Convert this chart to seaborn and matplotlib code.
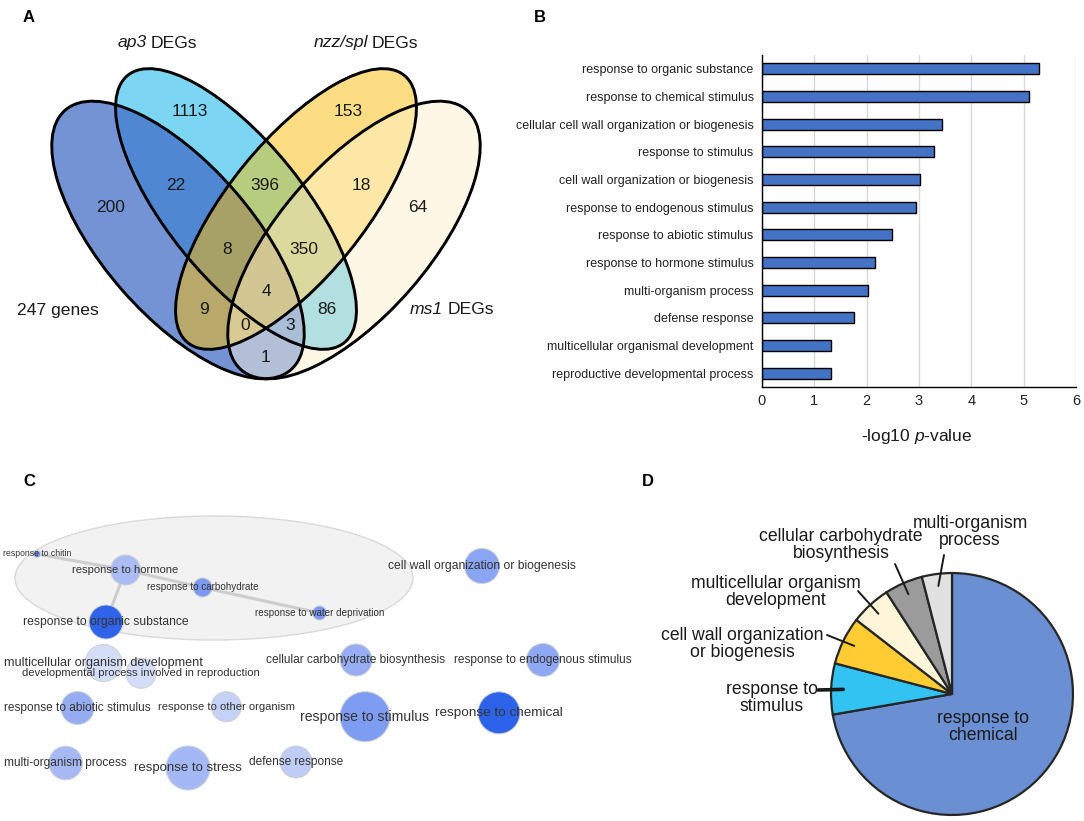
import numpy as np
import pandas as pd
import matplotlib
matplotlib.use("Agg")
import matplotlib.pyplot as plt
from matplotlib.patches import Ellipse
from matplotlib.colors import to_rgba
import seaborn as sns

# ---------------- data ----------------
# Panel A: Venn counts, one per region (set order: 247 genes, ap3, nzz/spl, ms1)
venn_regions = ["A", "B", "C", "D", "AB", "BC", "CD", "ABC", "BCD", "ABCD", "AC", "BD", "ACD", "ABD", "AD"]
venn_counts = [200, 1113, 153, 64, 22, 396, 18, 8, 350, 4, 9, 86, 0, 3, 1]

# Panel B: enriched GO terms
b_terms = ["response to organic substance", "response to chemical stimulus",
           "cellular cell wall organization or biogenesis", "response to stimulus",
           "cell wall organization or biogenesis", "response to endogenous stimulus",
           "response to abiotic stimulus", "response to hormone stimulus",
           "multi-organism process", "defense response",
           "multicellular organismal development", "reproductive developmental process"]
b_values = [5.30, 5.11, 3.44, 3.29, 3.01, 2.94, 2.49, 2.15, 2.03, 1.75, 1.32, 1.32]

# Panel C: GO term network
c_terms = ["response to chitin", "response to hormone", "response to carbohydrate",
           "response to water deprivation", "response to organic substance",
           "cell wall organization or biogenesis", "multicellular organism development",
           "developmental process involved in reproduction", "cellular carbohydrate biosynthesis",
           "response to endogenous stimulus", "response to abiotic stimulus",
           "response to other organism", "response to stimulus", "response to chemical",
           "multi-organism process", "response to stress", "defense response"]
c_node_radius = [3.5, 15, 9.5, 7, 17, 17.5, 18.5, 15, 16, 16.5, 16.5, 15, 25, 21, 16.8, 22, 16]
c_node_color = ["#6d8df0", "#aabcf3", "#7d9af2", "#7b98f0", "#2f63ea", "#8aa5f4", "#d3ddf8",
                "#d4ddf8", "#97aef4", "#8fa8f4", "#96adf3", "#c5d2f7", "#7f9cf3", "#2d62ea",
                "#a6b9f4", "#a4b8f5", "#bfcdf6"]
c_edges = [("response to chitin", "response to hormone"),
           ("response to hormone", "response to carbohydrate"),
           ("response to carbohydrate", "response to water deprivation"),
           ("response to hormone", "response to organic substance")]

# Panel D: share of GO categories
d_labels = ["response to\nchemical", "response to\nstimulus", "cell wall organization\nor biogenesis",
            "multicellular organism\ndevelopment", "cellular carbohydrate\nbiosynthesis",
            "multi-organism\nprocess"]
d_values = [72.2, 6.8, 6.4, 5.4, 5.1, 4.0]

# ---------------- layout / style ----------------
sns.set_theme(style="white")
plt.rcParams["font.family"] = ["Liberation Sans", "DejaVu Sans"]
plt.rcParams["mathtext.fontset"] = "custom"
plt.rcParams["mathtext.rm"] = "Liberation Sans"
plt.rcParams["mathtext.it"] = "Liberation Sans:italic"

fig = plt.figure(figsize=(10.84, 8.21), dpi=100)
canvas = fig.add_axes([0, 0, 1, 1])
canvas.set_zorder(0)

# ----- Panel A: Venn diagram (pixel coordinates) -----
venn_shapes = [(178, 240, 172, 75, 49),    # 247 genes
               (236, 209, 172, 68, 51),    # ap3
               (296, 209, 172, 68, 129),   # nzz/spl
               (354, 240, 172, 75, 131)]   # ms1
region_colors = {0: (1, 1, 1, 0), 1: "#7393d5", 2: "#7dd6f4", 3: "#4f87d3", 4: "#fcdd84",
                 5: "#b9a96b", 6: "#b8cc7f", 7: "#a7a167", 8: "#fff8e5", 9: "#b2bfd6",
                 10: "#b3e0e0", 11: "#a9bdd6", 12: "#fde7a7", 13: "#d9c992", 14: "#dcd99f",
                 15: "#d3c893"}
lut = np.array([to_rgba(region_colors[k]) for k in range(16)])

xs = np.arange(0, 542, 0.5) + 0.25
ys = np.arange(0, 410, 0.5) + 0.25
X, Y = np.meshgrid(xs, ys)
code = np.zeros(X.shape, dtype=int)
for i, (cx, cy, a, b, ang) in enumerate(venn_shapes):
    t = np.deg2rad(ang)
    dx, dy = X - cx, Y - cy
    u = dx * np.cos(t) + dy * np.sin(t)
    v = -dx * np.sin(t) + dy * np.cos(t)
    code |= (((u / a) ** 2 + (v / b) ** 2) <= 1).astype(int) << i
canvas.imshow(lut[code], extent=(0, 542, 410, 0), interpolation="bilinear", zorder=1, aspect="auto")
for cx, cy, a, b, ang in venn_shapes:
    canvas.add_patch(Ellipse((cx, cy), 2 * a, 2 * b, angle=ang, fill=False,
                             ec="black", lw=2.1, zorder=3))

venn_label_pos = {"A": (111, 208), "B": (190, 112), "C": (348, 112), "D": (418, 208),
                  "AB": (176, 186), "BC": (265, 186), "CD": (361, 186), "ABC": (227, 250),
                  "BCD": (304, 250), "ABCD": (266, 292), "AC": (204, 310), "BD": (327, 310),
                  "ACD": (245, 326), "ABD": (290, 326), "AD": (266, 357)}
for reg, n in zip(venn_regions, venn_counts):
    x, y = venn_label_pos[reg]
    canvas.text(x, y, str(n), ha="center", va="center", fontsize=12.5, color="#1a1a1a", zorder=4)

canvas.set_xlim(0, 1084)
canvas.set_ylim(821, 0)
renderer = fig.canvas.get_renderer()


def set_label(x, y, italic_part, rest, fontsize=12.6):
    # italic gene name, a space, then upright text, centred on (x, y)
    gap = 4.0
    t1 = canvas.text(x, y, italic_part, style="italic", ha="left", va="center",
                     fontsize=fontsize, color="#1a1a1a")
    t2 = canvas.text(x, y, rest, ha="left", va="center", fontsize=fontsize, color="#1a1a1a")
    w1 = t1.get_window_extent(renderer).width
    w2 = t2.get_window_extent(renderer).width
    x0 = x - (w1 + gap + w2) / 2
    t1.set_x(x0)
    t2.set_x(x0 + w1 + gap)


canvas.text(58, 310, "247 genes", ha="center", va="center", fontsize=12.6, color="#1a1a1a")
set_label(157, 43, "ap3", "DEGs")
set_label(366, 43, "nzz/spl", "DEGs")
set_label(452, 310, "ms1", "DEGs")

# ----- Panel C: GO network -----
c_pos = {"response to chitin": (37, 554), "response to hormone": (125.5, 570),
         "response to carbohydrate": (202.6, 587.5), "response to water deprivation": (319.5, 613),
         "response to organic substance": (106, 622), "cell wall organization or biogenesis": (482, 566),
         "multicellular organism development": (103.5, 663),
         "developmental process involved in reproduction": (141, 673.3),
         "cellular carbohydrate biosynthesis": (356, 660), "response to endogenous stimulus": (543, 660),
         "response to abiotic stimulus": (77.5, 708), "response to other organism": (226.3, 706.7),
         "response to stimulus": (365, 716.7), "response to chemical": (499, 712.8),
         "multi-organism process": (65.6, 763), "response to stress": (188, 768),
         "defense response": (296, 762)}
c_fontsize = [6.2, 8.1, 7.1, 7.1, 8.7, 8.7, 9.1, 8.1, 8.6, 8.6, 8.6, 8.1, 10.1, 9.7, 8.6, 9.5, 8.6]

canvas.add_patch(Ellipse((214, 578), 398, 124, fc="#f2f2f2", ec="#d9d9d9", lw=1, zorder=1))
for s, e in c_edges:
    (x0, y0), (x1, y1) = c_pos[s], c_pos[e]
    canvas.plot([x0, x1], [y0, y1], color="#cdcdcd", lw=2.2, solid_capstyle="round", zorder=2)

df_c = pd.DataFrame({"term": c_terms,
                     "x": [c_pos[t][0] for t in c_terms],
                     "y": [c_pos[t][1] for t in c_terms],
                     "area": [(1.44 * r) ** 2 for r in c_node_radius]})
sns.scatterplot(data=df_c, x="x", y="y", hue="term", palette=dict(zip(c_terms, c_node_color)),
                s=df_c["area"].values, edgecolor="#d0d0d0", linewidth=0.7, legend=False,
                ax=canvas, zorder=3)
for t, fs in zip(c_terms, c_fontsize):
    x, y = c_pos[t]
    canvas.text(x, y, t, ha="center", va="center", fontsize=fs, color="#333333", zorder=4)

# panel letters
for letter, (x, y) in [("A", (29, 17)), ("B", (540, 17)), ("C", (29, 481)), ("D", (648, 482))]:
    canvas.text(x, y, letter, ha="center", va="center", fontsize=12, fontweight="bold", color="black")

canvas.set_xlim(0, 1084)
canvas.set_ylim(821, 0)
canvas.set_xlabel("")
canvas.set_ylabel("")
canvas.axis("off")

# ----- Panel B: bar chart -----
axB = fig.add_axes([762 / 1084, 1 - 387 / 821, (1076 - 762) / 1084, (387 - 55) / 821])
df_b = pd.DataFrame({"term": b_terms, "value": b_values})
sns.barplot(data=df_b, x="value", y="term", orient="h", color="#4472C4", saturation=1,
            edgecolor="black", linewidth=1, width=0.4, ax=axB)
axB.set_xlim(0, 6)
axB.set_xticks(range(7))
axB.set_ylim(11.5, -0.5)
axB.grid(axis="x", color="#d9d9d9", lw=1)
axB.grid(axis="y", visible=False)
axB.set_axisbelow(True)
axB.set_xlabel("")
axB.set_ylabel("")
for side in ["top", "right"]:
    axB.spines[side].set_visible(False)
for side in ["left", "bottom"]:
    axB.spines[side].set_color("black")
    axB.spines[side].set_linewidth(1)
axB.tick_params(axis="y", length=0, pad=6, labelsize=9, labelcolor="#222222")
axB.tick_params(axis="x", length=0, pad=5, labelsize=10.5, labelcolor="#222222")
canvas.text(917, 437, r"-log10 $\mathit{p}$-value", ha="center", va="center", fontsize=12.5, color="#1a1a1a")

# ----- Panel D: pie chart -----
cx_d, cy_d, r_d = 952, 694, 121
axD = fig.add_axes([(cx_d - 150) / 1084, 1 - (cy_d + 150) / 821, 300 / 1084, 300 / 821])
pie_colors = ["#6a8fd2", "#33c3f2", "#ffcc33", "#fff5d8", "#9b9b9b", "#e1e1e1"]
wedges, _ = axD.pie(d_values, colors=pie_colors, startangle=90, counterclock=False,
                    wedgeprops=dict(edgecolor="#262626", linewidth=1.6))
axD.set_xlim(-1.24, 1.24)
axD.set_ylim(-1.24, 1.24)
axD.set_aspect("equal")
axD.axis("off")


def to_pie(px, py):
    return (px - cx_d) / r_d, (cy_d - py) / r_d


d_text_pos = [(983, 727), (772, 698), (742, 644), (776, 592), (841, 545), (970, 532)]
d_leader_end = [None, (818, 690), (827, 635), (858, 591), (895, 564), (944, 555)]
d_leader_lw = [0, 2.6, 1.4, 1.4, 1.4, 1.4]
for w, lab, tp, le, lw in zip(wedges, d_labels, d_text_pos, d_leader_end, d_leader_lw):
    tx, ty = to_pie(*tp)
    axD.text(tx, ty, lab, ha="center", va="center", fontsize=12.7, color="#1a1a1a",
             linespacing=1.0, clip_on=False)
    if le is not None:
        mid = np.deg2rad((w.theta1 + w.theta2) / 2)
        ex, ey = to_pie(*le)
        axD.plot([0.9 * np.cos(mid), ex], [0.9 * np.sin(mid), ey], color="#1a1a1a",
                 lw=lw, clip_on=False)

fig.savefig("out.png", dpi=100)
